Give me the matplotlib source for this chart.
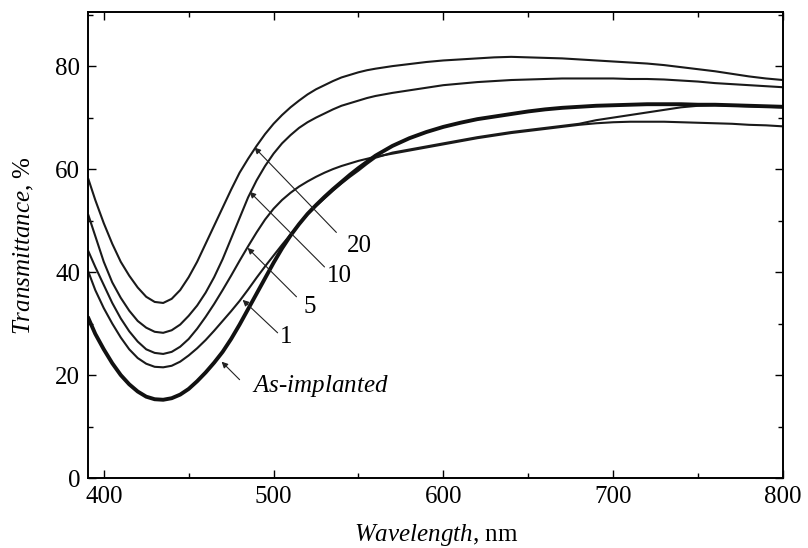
import matplotlib
matplotlib.use("Agg")
import matplotlib.pyplot as plt
from matplotlib.ticker import MultipleLocator

plt.rcParams['font.family'] = ['Liberation Serif', 'DejaVu Serif']
plt.rcParams['mathtext.fontset'] = 'custom'
plt.rcParams['mathtext.rm'] = 'Liberation Serif'
plt.rcParams['mathtext.it'] = 'Liberation Serif:italic'

# wavelength grid, nm
wl = [391, 395, 400, 405, 410, 415, 420, 425, 430, 435, 440, 445, 450, 455,
      460, 465, 470, 475, 480, 485, 490, 495, 500, 505, 510, 515, 520, 525,
      530, 535, 540, 545, 550, 555, 560,
      570, 580, 590, 600, 610, 620, 630, 640, 650, 660, 670, 680, 690, 700,
      710, 720, 730, 740, 750, 760, 770, 780, 790, 800]

# transmittance, %
t20 = [58, 54, 49.5, 45.5, 42, 39.3, 37, 35.2, 34.2, 34, 34.8, 36.5, 39, 42,
       45.5, 49, 52.5, 56, 59.3, 62, 64.5, 66.8, 68.8, 70.5, 72, 73.3, 74.5, 75.5,
       76.3, 77.1, 77.8, 78.3, 78.8, 79.2, 79.5,
       80, 80.4, 80.8, 81.1, 81.3, 81.5, 81.7, 81.8, 81.7, 81.6, 81.5, 81.3, 81.1, 80.9,
       80.7, 80.5, 80.2, 79.8, 79.4, 79, 78.5, 78, 77.6, 77.3]
t10 = [51, 47, 42, 38, 35, 32.5, 30.5, 29.2, 28.4, 28.2, 28.7, 29.8, 31.5, 33.5,
       36, 39, 42.5, 46.5, 50.5, 54.5, 57.8, 60.6, 63, 65, 66.6, 68, 69.1, 70,
       70.8, 71.6, 72.3, 72.8, 73.3, 73.8, 74.2,
       74.8, 75.3, 75.8, 76.3, 76.6, 76.9, 77.1, 77.3, 77.4, 77.5, 77.6, 77.6, 77.6, 77.6,
       77.5, 77.5, 77.4, 77.2, 77, 76.7, 76.5, 76.3, 76.1, 75.9]
t5 = [44, 41, 37.5, 34, 31, 28.5, 26.5, 25, 24.3, 24.1, 24.5, 25.5, 27, 29,
      31.3, 33.8, 36.5, 39.3, 42.2, 45, 47.7, 50.2, 52.3, 54, 55.4, 56.6, 57.6, 58.5,
      59.3, 60, 60.6, 61.1, 61.6, 62, 62.4,
      63, 63.6, 64.2, 64.8, 65.4, 66, 66.5, 67, 67.4, 67.8, 68.2, 68.6, 68.9, 69.1,
      69.2, 69.2, 69.2, 69.1, 69, 68.9, 68.8, 68.6, 68.5, 68.3]
t1 = [40, 36.5, 33, 30, 27.3, 25, 23.3, 22.2, 21.6, 21.5, 21.8, 22.6, 23.8, 25.2,
      26.8, 28.6, 30.5, 32.4, 34.4, 36.6, 38.9, 41.1, 43.2, 45.3, 47.3, 49.3, 51.2, 52.8,
      54.3, 55.8, 57.2, 58.5, 59.7, 61, 62.2,
      63.2, 63.8, 64.4, 65, 65.6, 66.2, 66.7, 67.2, 67.6, 68, 68.4, 68.8, 69.5, 70,
      70.5, 71, 71.5, 72, 72.3, 72.4, 72.3, 72.2, 72.1, 72]
t_as = [31, 28, 25, 22.3, 20, 18.2, 16.8, 15.8, 15.3, 15.2, 15.5, 16.2, 17.3, 18.8,
        20.5, 22.4, 24.5, 27, 29.8, 32.8, 35.8, 38.8, 41.8, 44.6, 47.1, 49.3, 51.3, 53,
        54.6, 56.1, 57.5, 58.9, 60.2, 61.4, 62.6,
        64.5, 66, 67.2, 68.2, 69, 69.7, 70.2, 70.7, 71.2, 71.6, 71.9, 72.1, 72.3, 72.4,
        72.5, 72.6, 72.6, 72.6, 72.5, 72.5, 72.4, 72.3, 72.2, 72.1]

labels = ["20", "10", "5", "1", r"$\mathit{As}$-$\mathit{implanted}$"]
# label text position, arrow tail, arrow head (nm, %)
text_pos = [(550.6, 45.1), (538.8, 39.2), (521.2, 33.2), (507.6, 27.3), (527.6, 17.8)]
tails = [(537, 47.7), (530, 41), (513.5, 35.2), (502.4, 28.2), (480, 19.1)]
heads = [(488.8, 64.2), (485.9, 55.6), (484.7, 44.7), (481.8, 34.6), (469.4, 22.6)]

fig = plt.figure(figsize=(8.08, 5.48), dpi=100)
ax = fig.add_axes([0.1095, 0.1277, 0.969 - 0.1095, 0.978 - 0.1277])

for t in [t20, t10, t5, t1]:
    ax.plot(wl, t, color="#1a1a1a", lw=1.5)
ax.plot(wl, t_as, color="#111111", lw=2.8)

for lab, tp, tl, hd in zip(labels, text_pos, tails, heads):
    ax.annotate("", xy=hd, xytext=tl,
                arrowprops=dict(arrowstyle="-|>", color="#222222", lw=0.8,
                                mutation_scale=9, shrinkA=0, shrinkB=0))
    ax.text(tp[0], tp[1], lab, fontsize=18, ha="center", va="center")

ax.set_xlim(391, 800)
ax.set_ylim(0, 90.5)
ax.xaxis.set_major_locator(MultipleLocator(100))
ax.xaxis.set_minor_locator(MultipleLocator(50))
ax.yaxis.set_major_locator(MultipleLocator(20))
ax.yaxis.set_minor_locator(MultipleLocator(10))
ax.tick_params(which="both", direction="in", top=True, right=True,
               labelsize=18, width=1.0, pad=6)
ax.tick_params(which="major", length=6)
ax.tick_params(which="minor", length=3.5)
for s in ax.spines.values():
    s.set_linewidth(1.4)

ax.set_xlabel(r"$\mathit{Wavelength}$, nm", fontsize=18, labelpad=10)
ax.set_ylabel(r"$\mathit{Transmittance}$, %", fontsize=18, labelpad=14)

fig.savefig("out.png", dpi=100)
